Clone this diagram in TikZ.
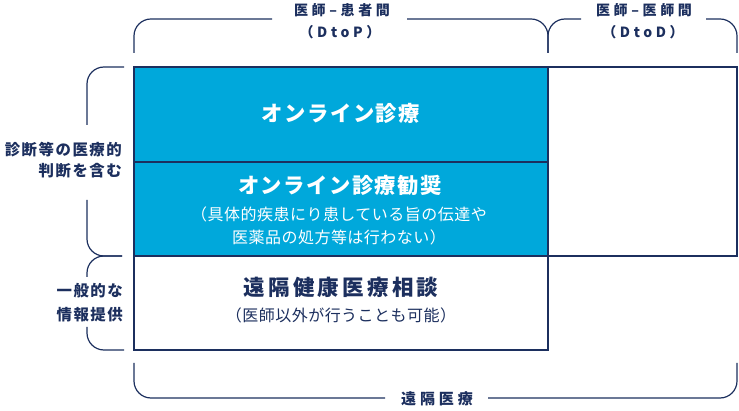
\documentclass[tikz,border=0pt]{standalone}
\usepackage{fontspec}
\setmainfont{Noto Sans CJK JP}
\newfontfamily\titlefont[LetterSpace=7]{Noto Sans CJK JP}
\newfontfamily\bigfont[LetterSpace=15]{Noto Sans CJK JP}
\newfontfamily\smallfont[LetterSpace=3]{Noto Sans CJK JP}
\newfontfamily\labelfont[LetterSpace=10]{Noto Sans CJK JP}
\newfontfamily\headfont[LetterSpace=26]{Noto Sans CJK JP}
\definecolor{navy}{HTML}{1C2F5E}
\definecolor{cyanfill}{HTML}{00A8DB}
\begin{document}
\begin{tikzpicture}[x=1pt,y=-1pt,
  cellbox/.style={draw=navy,line width=1.2pt,minimum width=414pt,minimum height=94pt,inner sep=0pt,outer sep=0pt},
  bluebox/.style={cellbox,fill=cyanfill},
  brace/.style={draw=navy,line width=1.2pt,rounded corners=17pt},
  titletxt/.style={font=\titlefont\bfseries\fontsize{21.3}{24}\selectfont,text=white,inner sep=0pt},
  bigtxt/.style={font=\bigfont\bfseries\fontsize{21.5}{25}\selectfont,text=navy,inner sep=0pt},
  smalltxt/.style={font=\smallfont\fontsize{16}{18}\selectfont,inner sep=0pt},
  labeltxt/.style={font=\labelfont\bfseries\fontsize{15.4}{18}\selectfont,text=navy,inner sep=0pt,anchor=east},
  headtxt/.style={font=\headfont\bfseries\fontsize{14}{16}\selectfont,text=navy,inner sep=0pt}]
\useasboundingbox (0,0) rectangle (739,411);
% boxes
\node[cellbox,minimum height=94pt] (gen) at (341,303) {};
\node[cellbox,minimum width=189pt,minimum height=189pt] (dtod) at (642.5,161.5) {};
\node[bluebox,minimum height=95pt] (online) at (341,114.5) {};
\node[bluebox,minimum height=94pt] (kansho) at (341,209) {};
\draw[navy,line width=2.6pt] (online.north west) rectangle (kansho.south east);
\draw[navy,line width=2.2pt] (online.south west) -- (online.south east);
% texts in boxes
\node[titletxt] (t1) at (341,113) {オンライン診療};
\node[titletxt] (t2) at (340,185) {オンライン診療勧奨};
\node[smalltxt,text=white] (t2a) at (339,214) {（具体的疾患にり患している旨の伝達や};
\node[smalltxt,text=white] (t2b) at (339,237) {医薬品の処方等は行わない）};
\node[bigtxt] (t3) at (341,287) {遠隔健康医療相談};
\node[smalltxt,text=navy] (t3a) at (341,315) {（医師以外が行うことも可能）};
% left labels
\node[labeltxt] (l1) at (122,150) {診断等の医療的};
\node[labeltxt] (l2) at (122,171) {判断を含む};
\node[labeltxt] (l3) at (123,291) {一般的な};
\node[labeltxt] (l4) at (123,315) {情報提供};
% top labels
\node[headtxt] (h1) at (342,10) {医師–患者間};
\node[headtxt] (h1b) at (340,32) {（DtoP）};
\node[headtxt] (h2) at (644,10) {医師–医師間};
\node[headtxt] (h2b) at (643,32) {（DtoD）};
% bottom label
\node[headtxt,font=\headfont\bfseries\fontsize{15}{17}\selectfont] (b1) at (437,399) {遠隔医療};
% coordinates for braces
\coordinate (tl) at (134,53);
\coordinate (tm) at (548,53);
\coordinate (tr) at (737,53);
% top braces
\draw[brace] (tl) -- (134,19) -- (272,19);
\draw[brace] (407,19) -- (548,19) -- (tm);
\draw[brace] (tm) -- (548,19) -- (581,19);
\draw[brace] (706,19) -- (737,19) -- (tr);
% bottom brace
\draw[brace] (134,363) -- (134,398) -- (385,398);
\draw[brace] (488,398) -- (737,398) -- (737,363);
% left braces
\draw[brace] (124,67) -- (87,67) -- (87,125);
\draw[brace] (87,200) -- (87,256) -- (122,256);
\draw[brace] (122,256) -- (87,256) -- (87,277);
\draw[brace] (87,327) -- (87,350) -- (124,350);
\end{tikzpicture}
\end{document}
